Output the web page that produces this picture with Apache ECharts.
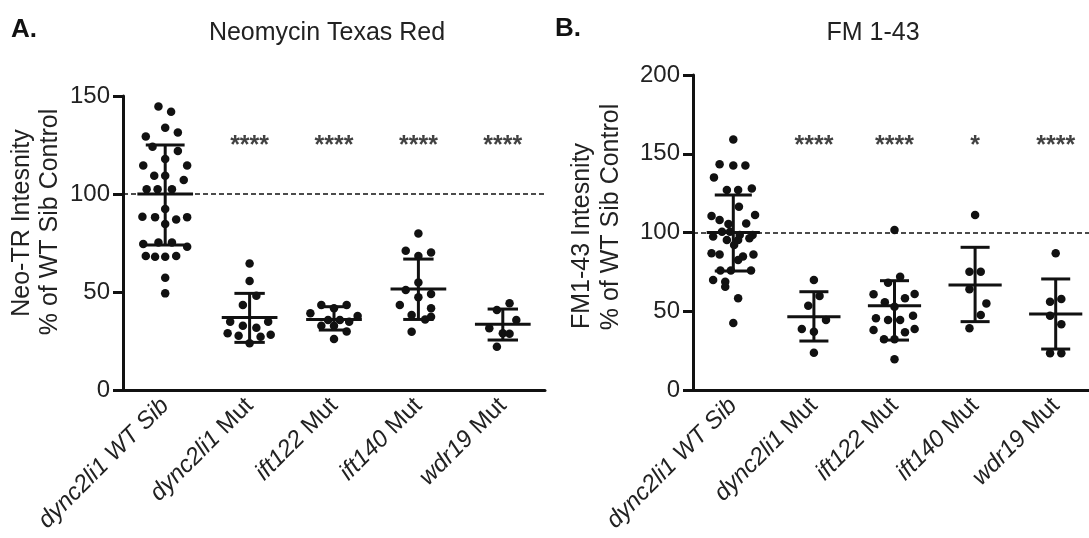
<!DOCTYPE html>
<html>
<head>
<meta charset="utf-8">
<script src="https://cdn.jsdelivr.net/npm/echarts@6/dist/echarts.min.js"></script>
<style>
  html, body { margin: 0; padding: 0; background: #fff; }
  #main { width: 1089px; height: 538px; }
</style>
</head>
<body>
<div id="main"></div>
<script>
// categories (gene + suffix, gene part in italics)
const genes = ['dync2li1', 'dync2li1', 'ift122', 'ift140', 'wdr19']
const suffixes = ['WT Sib', 'Mut', 'Mut', 'Mut', 'Mut']
const categories = genes.map((g, i) => g + ' ' + suffixes[i])

// Panel A: Neomycin Texas Red, points as [jitter, value]
const neoWtSib = [[-0.08, 144.6], [0.07, 142], [0, 133.8], [-0.23, 129.3], [0.15, 131.4], [-0.15, 124.1],
  [0.15, 121.9], [0, 117.9], [-0.26, 114.5], [0.26, 114.5], [-0.13, 109.3], [0, 109.3], [0.22, 107.1],
  [-0.22, 102.4], [-0.09, 102.4], [0.08, 102.4], [0, 92.3], [-0.27, 88.4], [-0.12, 88.2], [0.13, 87],
  [0.26, 88.2], [0, 84.7], [-0.26, 74.5], [-0.08, 75.3], [0.08, 75.3], [0.26, 73.1], [-0.23, 68.4],
  [-0.12, 68], [0, 68], [0.13, 68.4], [0, 57.3], [0, 49.3]]
const neoDync = [[0, 64.6], [0, 55.6], [0.08, 48.1], [-0.08, 43.4], [-0.23, 34.8], [-0.08, 32.8], [0.08, 31.8],
  [0.22, 34.8], [-0.26, 28.9], [-0.13, 27.7], [0.13, 27.2], [0.25, 28.2], [0, 23.8]]
const neoIft122 = [[-0.15, 43.4], [0, 41.7], [0.15, 43.4], [-0.28, 39.1], [0.28, 37.8], [-0.07, 35.7],
  [0.07, 35.7], [-0.15, 32.8], [0, 32.8], [0.18, 34.8], [0.15, 29.8], [0, 26]]
const neoIft140 = [[0, 79.9], [-0.15, 71.1], [0.15, 70.1], [0, 68.4], [0, 54.9], [-0.15, 51], [0.15, 49],
  [0, 47.3], [-0.22, 43.4], [0.15, 41.7], [-0.08, 38.3], [0.15, 37.4], [0.08, 36], [-0.08, 29.7]]
const neoWdr19 = [[0.08, 44.2], [-0.07, 40.8], [0.16, 35.7], [-0.16, 31.5], [0, 28.9], [0.08, 28.7], [-0.07, 22.1]]
const neoMean = [100, 37, 36, 51.5, 33.5]
const neoLow = [74, 24.3, 30.6, 36, 25.5]
const neoHigh = [125, 49.3, 42.5, 66.8, 41.3]
const neoSig = ['', '****', '****', '****', '****']

// Panel B: FM 1-43
const fmWtSib = [[0, 159.1], [-0.17, 143.3], [0, 142.6], [0.15, 142.6], [-0.24, 135], [-0.08, 127], [0.06, 127],
  [0.23, 128], [0.07, 116.4], [-0.27, 110.5], [-0.17, 108], [0.27, 111.1], [-0.06, 105.4], [0.16, 105.7],
  [-0.14, 100.5], [-0.04, 100.5], [0.08, 98.4], [0.24, 98.4], [-0.25, 97.4], [-0.08, 95.2], [0.06, 95.2],
  [0.2, 96.3], [0.01, 92], [-0.27, 86.8], [-0.17, 86], [0.12, 84.7], [0.25, 86], [0.06, 82.5],
  [-0.16, 75.8], [-0.03, 75.8], [0.22, 75.8], [-0.25, 69.8], [-0.1, 68.8], [-0.1, 65.6], [0.06, 58.2], [0, 42.5]]
const fmDync = [[0, 69.8], [0.07, 59.7], [-0.07, 53.5], [0.15, 44.4], [-0.15, 38.7], [0, 37], [0, 23.7]]
const fmIft122 = [[0, 101.6], [0.07, 71.9], [-0.08, 68.1], [-0.26, 60.8], [0.13, 58.2], [0.25, 61],
  [-0.12, 55.7], [0, 52.9], [-0.23, 45.5], [-0.08, 44.4], [0.07, 44.4], [0.23, 47.2], [-0.26, 38.1],
  [0.13, 36.6], [0.25, 38.7], [-0.13, 32.2], [0, 32.2], [0, 19.5]]
const fmIft140 = [[0, 111.1], [-0.07, 75.1], [0.07, 75.1], [-0.07, 63.9], [0.14, 55], [0.07, 47.6], [-0.07, 39.2]]
const fmWdr19 = [[0, 86.8], [-0.07, 56.1], [0.07, 57.8], [-0.07, 47.2], [0.07, 41.7], [-0.07, 23.3], [0.07, 23.3]]
const fmMean = [100, 46.5, 53.5, 66.7, 48.3]
const fmLow = [75.6, 31.1, 31.7, 43.4, 26]
const fmHigh = [123.8, 62.4, 69.4, 90.6, 70.5]
const fmSig = ['', '****', '****', '*', '****']

const font = 'Liberation Sans, Arial, sans-serif'
const ink = '#111'
const txt = '#222'

function toPoints (groups) {
  let out = []
  groups.forEach((g, i) => {
    g.forEach(p => out.push([i + p[0], p[1]]))
  })
  return out
}

function catLabel (v) {
  let i = categories.indexOf(v)
  if (suffixes[i] === 'WT Sib') return '{i|' + v + '}'
  return '{i|' + genes[i] + '} {n|' + suffixes[i] + '}'
}

function errRender (params, api) {
  let x = api.value(0)
  let c = api.coord([x, api.value(1)])
  let lo = api.coord([x, api.value(2)])
  let hi = api.coord([x, api.value(3)])
  let band = api.size([1, 0])[0]
  let half = band * 0.33
  let cap = x === 0 ? band * 0.23 : band * 0.18
  let style = { stroke: ink, lineWidth: 3 }
  return {
    type: 'group',
    children: [
      { type: 'line', shape: { x1: c[0] - half, y1: c[1], x2: c[0] + half, y2: c[1] }, style: style },
      { type: 'line', shape: { x1: lo[0], y1: lo[1], x2: hi[0], y2: hi[1] }, style: style },
      { type: 'line', shape: { x1: lo[0] - cap, y1: lo[1], x2: lo[0] + cap, y2: lo[1] }, style: style },
      { type: 'line', shape: { x1: hi[0] - cap, y1: hi[1], x2: hi[0] + cap, y2: hi[1] }, style: style }
    ]
  }
}

function panelAxes (gi) {
  return [{
    type: 'category',
    gridIndex: gi,
    data: categories,
    boundaryGap: true,
    axisLine: { lineStyle: { color: ink, width: 3 } },
    axisTick: { alignWithLabel: true, length: 9, lineStyle: { color: ink, width: 3 } },
    axisLabel: {
      rotate: 45,
      margin: 12,
      color: txt,
      fontFamily: font,
      fontSize: 24,
      formatter: catLabel,
      rich: {
        i: { fontStyle: 'italic', fontSize: 24, fontFamily: font, color: txt },
        n: { fontStyle: 'normal', fontSize: 24, fontFamily: font, color: txt }
      }
    },
    splitLine: { show: false }
  }, {
    type: 'value',
    gridIndex: gi,
    min: -0.5,
    max: 4.5,
    show: false
  }]
}

function panelY (gi, max) {
  return {
    type: 'value',
    gridIndex: gi,
    min: 0,
    max: max,
    interval: 50,
    axisLine: { show: true, onZero: false, lineStyle: { color: ink, width: 3 } },
    axisTick: { show: true, length: 10, lineStyle: { color: ink, width: 3 } },
    axisLabel: { color: txt, fontFamily: font, fontSize: 24, margin: 13 },
    splitLine: { show: false }
  }
}

function panelSeries (gi, groups, mean, low, high, sig, sigY) {
  let xi = gi * 2 + 1
  return [{
    type: 'scatter',
    xAxisIndex: xi,
    yAxisIndex: gi,
    data: toPoints(groups),
    symbolSize: 8.5,
    itemStyle: { color: ink, opacity: 1 },
    markLine: {
      silent: true,
      symbol: 'none',
      label: { show: false },
      lineStyle: { color: ink, type: [5, 3], width: 1.5 },
      data: [{ yAxis: 100 }]
    },
    z: 3
  }, {
    type: 'custom',
    xAxisIndex: xi,
    yAxisIndex: gi,
    renderItem: errRender,
    data: mean.map((m, i) => [i, m, low[i], high[i]]),
    z: 4
  }, {
    type: 'scatter',
    xAxisIndex: xi,
    yAxisIndex: gi,
    symbolSize: 0,
    data: sig.map((s, i) => [i, sigY, s]),
    label: {
      show: true,
      position: 'inside',
      formatter: p => p.data[2],
      fontFamily: font,
      fontSize: 25,
      fontWeight: 'bold',
      color: ink
    }
  }]
}

function axisName (text, x, y) {
  return {
    type: 'text',
    x: x,
    y: y,
    rotation: Math.PI / 2,
    style: { text: text, font: '25px ' + font, fill: txt, align: 'center', verticalAlign: 'middle' }
  }
}

let chart = echarts.init(document.getElementById('main'))
chart.setOption({
  animation: false,
  backgroundColor: '#fff',
  title: [
    { text: 'A.', left: 11, top: 17, padding: 0, textStyle: { fontFamily: font, fontSize: 26, fontWeight: 'bold', color: ink } },
    { text: 'Neomycin Texas Red', left: 327, top: 21, padding: 0, textAlign: 'center', textStyle: { fontFamily: font, fontSize: 25, fontWeight: 'normal', color: txt } },
    { text: 'B.', left: 555, top: 16, padding: 0, textStyle: { fontFamily: font, fontSize: 26, fontWeight: 'bold', color: ink } },
    { text: 'FM 1-43', left: 873, top: 21, padding: 0, textAlign: 'center', textStyle: { fontFamily: font, fontSize: 25, fontWeight: 'normal', color: txt } }
  ],
  graphic: [
    axisName('Neo-TR Intesnity', 22, 223),
    axisName('% of WT Sib Control', 50, 222),
    axisName('FM1-43 Intesnity', 582, 236),
    axisName('% of WT Sib Control', 611, 217)
  ],
  grid: [
    { left: 123, right: 544, top: 96, bottom: 148, containLabel: false, outerBoundsMode: 'none' },
    { left: 693, right: -7, top: 75, bottom: 148, containLabel: false, outerBoundsMode: 'none' }
  ],
  xAxis: panelAxes(0).concat(panelAxes(1)),
  yAxis: [panelY(0, 150), panelY(1, 200)],
  series: panelSeries(0, [neoWtSib, neoDync, neoIft122, neoIft140, neoWdr19], neoMean, neoLow, neoHigh, neoSig, 124.6)
    .concat(panelSeries(1, [fmWtSib, fmDync, fmIft122, fmIft140, fmWdr19], fmMean, fmLow, fmHigh, fmSig, 155))
})
</script>
</body>
</html>
